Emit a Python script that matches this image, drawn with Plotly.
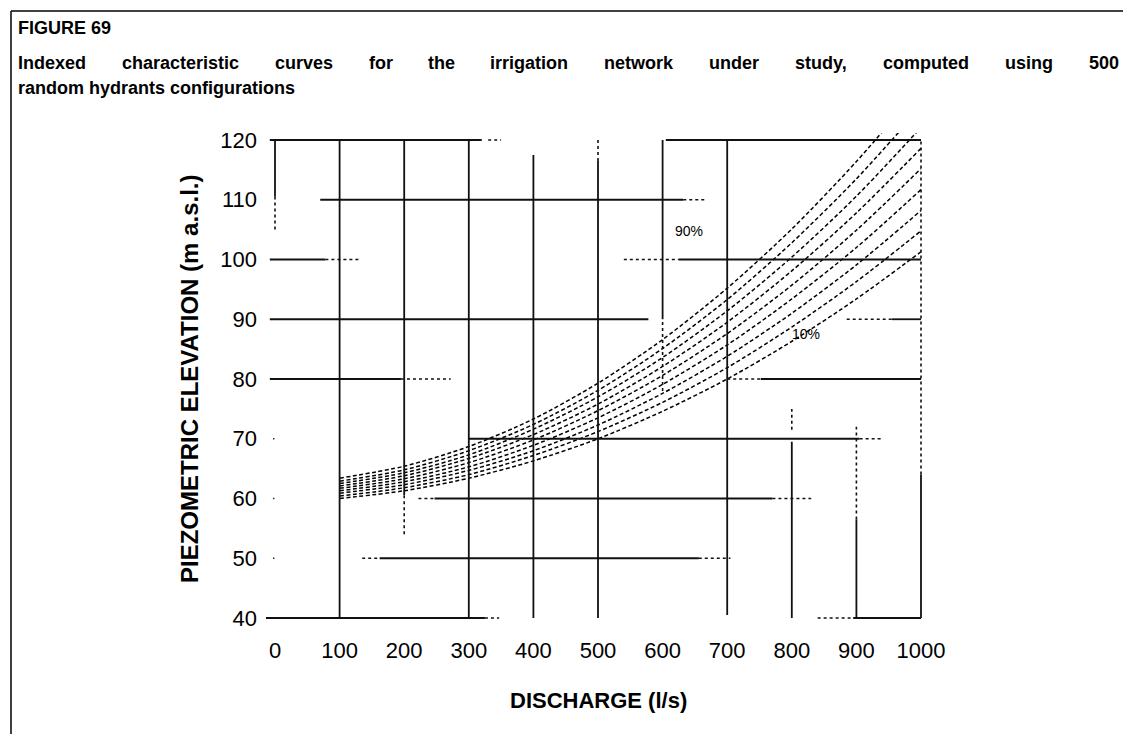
import plotly.graph_objects as go

# ---------------- data ----------------
discharge = [100, 200, 300, 400, 500, 600, 700, 800, 900, 1000]
curve_names = ["10%", "20%", "30%", "40%", "50%", "60%", "70%", "80%", "90%"]
elev_10 = [60.0, 61.3, 63.4, 66.3, 70.0, 74.6, 80.0, 86.3, 93.4, 101.3]
elev_20 = [60.4, 61.8, 64.0, 67.2, 71.2, 76.1, 81.9, 88.7, 96.3, 104.8]
elev_30 = [60.9, 62.3, 64.7, 68.0, 72.3, 77.6, 83.8, 91.0, 99.1, 108.2]
elev_40 = [61.3, 62.8, 65.3, 68.9, 73.5, 79.1, 85.7, 93.4, 102.0, 111.7]
elev_50 = [61.7, 63.3, 66.0, 69.8, 74.7, 80.6, 87.6, 95.7, 104.9, 115.2]
elev_60 = [62.1, 63.8, 66.7, 70.7, 75.8, 82.1, 89.5, 98.1, 107.8, 118.6]
elev_70 = [62.5, 64.3, 67.3, 71.6, 77.0, 83.6, 91.4, 100.4, 110.6, 122.1]
elev_80 = [62.9, 64.8, 68.0, 72.4, 78.1, 85.1, 93.3, 102.8, 113.5, 125.5]
elev_90 = [63.4, 65.4, 68.7, 73.3, 79.3, 86.6, 95.2, 105.1, 116.4, 129.0]
curves = [elev_10, elev_20, elev_30, elev_40, elev_50, elev_60, elev_70, elev_80, elev_90]

x_ticks = [0, 100, 200, 300, 400, 500, 600, 700, 800, 900, 1000]
y_ticks = [40, 50, 60, 70, 80, 90, 100, 110, 120]

fig_label = "FIGURE 69"
title_line2 = "Indexed characteristic curves for the irrigation network under study, computed using 500"
title_line3 = "random hydrants configurations"
x_title = "DISCHARGE (l/s)"
y_title = "PIEZOMETRIC ELEVATION (m a.s.l.)"

# ---------------- layout geometry ----------------
W, H = 1131, 734
PL, PR, PT, PB = 255, 925, 125, 617          # plot area in pixels
X_RANGE = [-18.58, 1018.58]
Y_RANGE = [38.83, 121.17]


def px_x(px):
    return (px - PL) / (PR - PL)


def px_y(py):
    return (PB - py) / (PB - PT)


FONT = "Liberation Sans, Arial, sans-serif"

fig = go.Figure()

for name, vals in zip(curve_names, curves):
    fig.add_trace(go.Scatter(
        x=discharge, y=vals, name=name, mode="lines",
        line=dict(color="black", width=1.5, dash="4px,2.5px", shape="spline", smoothing=0.8),
        showlegend=False, hoverinfo="x+y+name"))

# ---------------- broken scanned grid ----------------
# horizontal: (value, x0, x1)
h_solid = [(120, -8, 320), (120, 605, 1000),
           (110, 70, 632),
           (100, -8, 78), (100, 625, 1000),
           (90, -8, 578), (90, 955, 1000),
           (80, -8, 195), (80, 752, 1000),
           (70, 300, 905),
           (60, 247, 770),
           (50, 162, 656),
           (40, -14, 325), (40, 895, 1000)]
h_dot = [(120, 330, 350), (110, 632, 668), (100, 78, 130), (100, 540, 625),
         (90, 885, 955), (80, 195, 272), (80, 700, 752), (70, 905, 940),
         (60, 222, 247), (60, 770, 830), (50, 135, 162), (50, 656, 705),
         (40, 325, 347), (40, 840, 895), (70, -3, -1), (60, -3, -1), (50, -3, -1)]
# vertical: (value, y0, y1)
v_solid = [(0, 110.5, 120), (100, 40, 120), (200, 60.6, 120), (300, 40, 120),
           (400, 40, 117.5), (500, 40, 116.5), (600, 90, 120), (700, 40.5, 120),
           (800, 40, 69.5), (900, 40, 56.5), (1000, 40, 64)]
v_dot = [(0, 105, 110.5), (200, 54, 60.6), (500, 116.5, 120), (600, 78, 90),
         (800, 71.5, 75), (900, 56.5, 72), (1000, 64, 120)]

shapes = []
for v, a, b in h_solid:
    shapes.append(dict(type="line", xref="x", yref="y", x0=a, x1=b, y0=v, y1=v,
                       line=dict(color="#111", width=1.8)))
for v, a, b in h_dot:
    shapes.append(dict(type="line", xref="x", yref="y", x0=a, x1=b, y0=v, y1=v,
                       line=dict(color="#111", width=1.6, dash="dot")))
for v, a, b in v_solid:
    shapes.append(dict(type="line", xref="x", yref="y", x0=v, x1=v, y0=a, y1=b,
                       line=dict(color="#111", width=1.8)))
for v, a, b in v_dot:
    shapes.append(dict(type="line", xref="x", yref="y", x0=v, x1=v, y0=a, y1=b,
                       line=dict(color="#111", width=1.6, dash="dot")))

# outer frame of the figure box
frame = dict(color="black", width=1.5)
shapes.append(dict(type="line", xref="paper", yref="paper", x0=px_x(3), x1=px_x(1128),
                   y0=px_y(3), y1=px_y(3), line=frame))
shapes.append(dict(type="line", xref="paper", yref="paper", x0=px_x(3), x1=px_x(3),
                   y0=px_y(3), y1=px_y(734), line=frame))
shapes.append(dict(type="line", xref="paper", yref="paper", x0=px_x(1128), x1=px_x(1128),
                   y0=px_y(3), y1=px_y(108), line=frame))

# ---------------- annotations ----------------
TSIZE = 18
ann = []
ann.append(dict(text=f"<b>{fig_label}</b>", xref="paper", yref="paper", x=px_x(8), y=px_y(20),
                xanchor="left", yanchor="middle", showarrow=False,
                font=dict(family=FONT, size=TSIZE, color="black")))

# justified second title line
BOLD_W = {" ": 278, ",": 278, "I": 278, "a": 556, "c": 556, "d": 611, "e": 556, "f": 333,
          "g": 611, "h": 611, "i": 278, "k": 556, "m": 889, "n": 611, "o": 611, "p": 611,
          "r": 389, "s": 556, "t": 333, "u": 611, "v": 556, "w": 778, "x": 556, "y": 556}
words = title_line2.split(" ")
widths = [sum(BOLD_W.get(c, 556) for c in w) * TSIZE / 1000 * 1.013 for w in words]
left, right = 10, 1111
gap = (right - left - sum(widths)) / (len(words) - 1)
xpos = left
for i, (w, wd) in enumerate(zip(words, widths)):
    last = i == len(words) - 1
    ann.append(dict(text=f"<b>{w}</b>", xref="paper", yref="paper",
                    x=px_x(right + 2) if last else px_x(xpos - 2), y=px_y(55),
                    xanchor="right" if last else "left", yanchor="middle", showarrow=False,
                    font=dict(family=FONT, size=TSIZE, color="black")))
    xpos += wd + gap

ann.append(dict(text=f"<b>{title_line3}</b>", xref="paper", yref="paper", x=px_x(8), y=px_y(80),
                xanchor="left", yanchor="middle", showarrow=False,
                font=dict(family=FONT, size=TSIZE, color="black")))

ann.append(dict(text=f"<b>{x_title}</b>", xref="paper", yref="paper", x=px_x(590), y=px_y(692),
                xanchor="center", yanchor="middle", showarrow=False,
                font=dict(family=FONT, size=22, color="black")))
ann.append(dict(text=f"<b>{y_title}</b>", xref="paper", yref="paper", x=px_x(181), y=px_y(371),
                xanchor="center", yanchor="middle", showarrow=False, textangle=-90,
                font=dict(family=FONT, size=24, color="black")))

ann.append(dict(text="90%", xref="x", yref="y", x=641, y=104.8, showarrow=False,
                font=dict(family=FONT, size=14, color="black")))
ann.append(dict(text="10%", xref="x", yref="y", x=822, y=87.6, showarrow=False,
                font=dict(family=FONT, size=14, color="black")))

fig.update_layout(
    width=W, height=H,
    margin=dict(l=PL, r=W - PR, t=PT, b=H - PB, pad=0),
    paper_bgcolor="white", plot_bgcolor="white",
    font=dict(family=FONT, color="black"),
    shapes=shapes, annotations=ann,
    xaxis=dict(range=X_RANGE, tickmode="array", tickvals=x_ticks,
               ticktext=[str(v) for v in x_ticks], showgrid=False, zeroline=False,
               showline=False, ticks="", ticklabelstandoff=10,
               tickfont=dict(family=FONT, size=22, color="black")),
    yaxis=dict(range=Y_RANGE, tickmode="array", tickvals=y_ticks,
               ticktext=[str(v) for v in y_ticks], showgrid=False, zeroline=False,
               showline=False, ticks="", ticklabelstandoff=5,
               tickfont=dict(family=FONT, size=22, color="black")),
)

fig.write_html("out.html")
